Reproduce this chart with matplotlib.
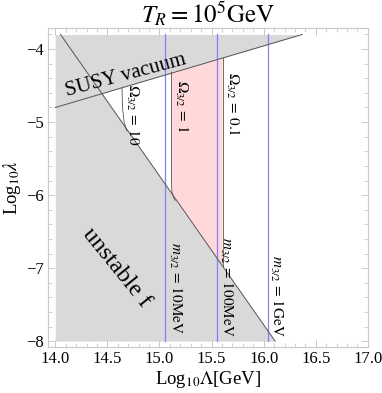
import matplotlib
matplotlib.use("Agg")
import matplotlib.pyplot as plt
import numpy as np
from matplotlib.ticker import MultipleLocator, FormatStrFormatter, FuncFormatter

plt.rcParams['font.family'] = ['Liberation Serif', 'DejaVu Serif']
plt.rcParams['mathtext.fontset'] = 'stix'

# ---- data ----
susy_x = [14.0, 16.37]          # SUSY vacuum boundary
susy_y = [-4.80, -3.80]
unstable_x = [14.05, 16.11]     # unstable f boundary
unstable_y = [-3.80, -8.00]
y_top = -3.80
y_bot = -8.00
x_left = 14.0

# Omega_{3/2} contours
omega10_x = [14.640, 14.645, 14.660, 14.686]
omega10_y = [-4.531, -4.800, -5.000, -5.120]
omega1_x = [15.115, 15.115, 15.120, 15.135, 15.150]
omega1_y = [-4.317, -5.850, -5.960, -6.030, -6.075]
omega01_x = [15.605, 15.605]
omega01_y = [-4.128, -6.970]

# m_{3/2} lines
m32_x = [15.05, 15.555, 16.04]
m32_labels = ["10MeV", "100MeV", "1GeV"]

gray = '#d9d9d9'
pink = '#ffd9d9'
blue = '#8080ff'
dark = '#555555'

fig = plt.figure(figsize=(3.82, 3.93), dpi=100)
ax = fig.add_axes([0.1257, 0.117, 0.8373, 0.812])

# gray regions
ax.fill_between(susy_x, susy_y, y_top, color=gray, lw=0, zorder=1)
ax.fill_betweenx(unstable_y, x_left, unstable_x, color=gray, lw=0, zorder=1)

# pink region between Omega=1 and Omega=0.1
px = list(omega1_x) + [omega01_x[1], omega01_x[0]]
py = list(omega1_y) + [omega01_y[1], omega01_y[0]]
ax.fill(px, py, color=pink, lw=0, zorder=1.5)

# lines
ax.plot(susy_x, susy_y, color=dark, lw=0.7, zorder=3)
ax.plot(unstable_x, unstable_y, color=dark, lw=0.7, zorder=3)
ax.plot(omega10_x, omega10_y, color=dark, lw=0.6, zorder=3)
ax.plot(omega1_x, omega1_y, color=dark, lw=0.6, zorder=3)
ax.plot(omega01_x, omega01_y, color=dark, lw=0.6, zorder=3)
for xm in m32_x:
    ax.plot([xm, xm], [y_bot, y_top], color=blue, lw=0.9, zorder=2.5)

# labels
lblfs = 11
ax.text(14.662, -4.90, r"$\Omega_{3/2}\,=\,10$", rotation=-90, ha='left', va='center', fontsize=lblfs, zorder=4)
ax.text(15.125, -4.78, r"$\Omega_{3/2}\,=\,1$", rotation=-90, ha='left', va='center', fontsize=lblfs, zorder=4)
ax.text(15.615, -4.75, r"$\Omega_{3/2}\,=\,0.1$", rotation=-90, ha='left', va='center', fontsize=lblfs, zorder=4)
m_pos = [(15.07, -7.27), (15.565, -7.25), (16.045, -7.38)]
for (tx, ty), lab in zip(m_pos, m32_labels):
    ax.text(tx, ty, r"$m_{3/2}\,=\,\mathrm{" + lab + "}$", rotation=-90, ha='left', va='center',
            fontsize=lblfs, zorder=4)

ax.text(14.68, -4.36, "SUSY vacuum", rotation=15, ha='center', va='center', fontsize=15, zorder=4)
ax.text(14.59, -7.0, "unstable f", rotation=-51, ha='center', va='center', fontsize=17.5, zorder=4)

ax.set_xlim(13.93, 17.0)
ax.set_ylim(-8.08, -3.71)

frame_c = '#c8c8c8'
for s in ax.spines.values():
    s.set_color(frame_c)
    s.set_linewidth(0.8)
ax.xaxis.set_major_locator(MultipleLocator(0.5))
ax.xaxis.set_minor_locator(MultipleLocator(0.1))
ax.yaxis.set_major_locator(MultipleLocator(1))
ax.yaxis.set_minor_locator(MultipleLocator(0.2))
ax.xaxis.set_major_formatter(FormatStrFormatter('%.1f'))
ax.yaxis.set_major_formatter(FuncFormatter(lambda v, p: '\u2212%d' % abs(round(v))))
ax.tick_params(which='both', direction='in', top=True, right=True, color=frame_c, labelsize=12, pad=3)
ax.tick_params(which='major', length=5, width=0.7)
ax.tick_params(which='minor', length=2.8, width=0.6)

ax.set_xlabel(r"Log$_{10}\Lambda$[GeV]", fontsize=13.5, labelpad=1)
ax.set_ylabel(r"Log$_{10}\lambda$", fontsize=13.5, labelpad=2)
ax.set_title(r"$T_R=10^5\mathrm{GeV}$", fontsize=18, pad=3)

fig.savefig("out.png", dpi=100)
